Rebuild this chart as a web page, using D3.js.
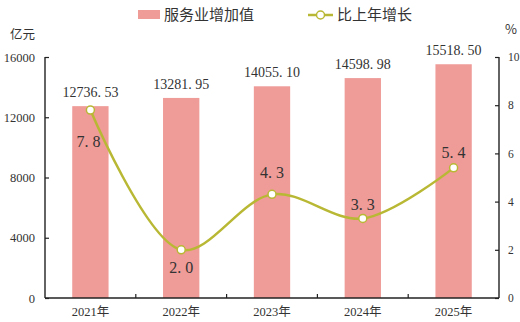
<!DOCTYPE html>
<html><head><meta charset="utf-8">
<script src="https://cdn.jsdelivr.net/npm/d3@7"></script>
<style>body{margin:0;background:#fff}svg{display:block}</style>
</head><body>
<svg id="c" width="520" height="322"></svg>
<script>
const categories = ["2021年","2022年","2023年","2024年","2025年"];
const serviceValues = [12736.53, 13281.95, 14055.10, 14598.98, 15518.50];
const growthRates = [7.8, 2.0, 4.3, 3.3, 5.4];
const leftTicks = [0, 4000, 8000, 12000, 16000];
const rightTicks = [0, 2, 4, 6, 8, 10];

const svg = d3.select("#c");
const L = 45, R = 499, T = 57, B = 298;
const serif = "'Liberation Serif','DejaVu Serif','Noto Sans CJK SC',serif";
const cjk = "'Noto Sans CJK SC',sans-serif";
const barColor = "#ef9b97", lineColor = "#b9b835", textColor = "#333";

const x = d3.scaleBand().domain(categories).range([L, R]).paddingInner(0.6).paddingOuter(0.3);
const xb = d3.scaleBand().domain(categories).range([L, R]);
const yL = d3.scaleLinear().domain([0, 16000]).range([B, T]);
const yR = d3.scaleLinear().domain([0, 10]).range([B, T]);

// bars
svg.selectAll("rect.bar").data(serviceValues).join("rect")
  .attr("x", (d,i)=>x(categories[i])).attr("width", x.bandwidth())
  .attr("y", d=>yL(d)).attr("height", d=>B-yL(d)).attr("fill", barColor);

// bar labels
svg.selectAll("text.bl").data(serviceValues).join("text")
  .attr("x",(d,i)=>xb(categories[i])+xb.bandwidth()/2).attr("y", d=>yL(d)-9)
  .attr("text-anchor","middle").attr("font-family",serif).attr("font-size",14)
  .attr("fill",textColor).text(d=>d3.format(".2f")(d).replace(".", ". "));

// axes
const axL = svg.append("g").attr("transform",`translate(${L},0)`)
  .call(d3.axisLeft(yL).tickValues(leftTicks).tickFormat(d3.format("d")).tickSize(-4).tickPadding(10));
const axR = svg.append("g").attr("transform",`translate(${R},0)`)
  .call(d3.axisRight(yR).tickValues(rightTicks).tickFormat(d3.format("d")).tickSize(-4).tickPadding(9));
const axB = svg.append("g").attr("transform",`translate(0,${B})`)
  .call(d3.axisBottom(xb).tickSize(0).tickPadding(9));
[axL, axR, axB].forEach(g=>{
  g.select(".domain").attr("stroke","#222").attr("stroke-width",1.4);
  g.selectAll(".tick line").attr("stroke","#222").attr("stroke-width",1.2);
  g.selectAll("text").attr("font-family",serif).attr("font-size",12.5).attr("fill",textColor);
});
axR.selectAll("text").attr("font-size",11.5);
axL.select(".domain").attr("d",`M0,${B}V${T}`);
axR.select(".domain").attr("d",`M0,${B}V${T}`);
axB.select(".domain").attr("d",`M${L},0H${R}`);
axB.selectAll("text").attr("font-size",12.5);
// category separator ticks on x axis (upward)
svg.append("g").selectAll("line").data(categories.slice(1)).join("line")
  .attr("x1",d=>xb(d)).attr("x2",d=>xb(d)).attr("y1",B).attr("y2",B-4)
  .attr("stroke","#222").attr("stroke-width",1.2);

// line
const cx = (i)=>xb(categories[i])+xb.bandwidth()/2;
const line = d3.line().x((d,i)=>cx(i)).y(d=>yR(d)).curve(d3.curveCatmullRom.alpha(0.5));
svg.append("path").datum(growthRates).attr("d",line).attr("fill","none")
  .attr("stroke",lineColor).attr("stroke-width",2.5);
svg.selectAll("circle.pt").data(growthRates).join("circle")
  .attr("cx",(d,i)=>cx(i)).attr("cy",d=>yR(d)).attr("r",4)
  .attr("fill","#fff").attr("stroke",lineColor).attr("stroke-width",1.5);
const dy = [37, 23, -16, -8, -10];
svg.selectAll("text.gl").data(growthRates).join("text")
  .attr("x",(d,i)=>cx(i)-(i===0?2:0)).attr("y",(d,i)=>yR(d)+dy[i])
  .attr("text-anchor","middle").attr("font-family",serif).attr("font-size",16)
  .attr("fill",textColor).text(d=>d3.format(".1f")(d).replace(".", ". "));

// units
svg.append("text").attr("x",10).attr("y",39).attr("font-family",cjk).attr("font-size",12.5).attr("fill",textColor).text("亿元");
svg.append("text").attr("x",505).attr("y",34).attr("font-family",cjk).attr("font-size",13).attr("fill",textColor).text("%");

// legend
svg.append("rect").attr("x",138).attr("y",10).attr("width",22).attr("height",9).attr("fill",barColor);
svg.append("text").attr("x",164).attr("y",20).attr("font-family",cjk).attr("font-size",15).attr("fill",textColor).text("服务业增加值");
svg.append("line").attr("x1",308).attr("x2",333).attr("y1",15).attr("y2",15).attr("stroke",lineColor).attr("stroke-width",2.5);
svg.append("circle").attr("cx",320.5).attr("cy",15).attr("r",4).attr("fill","#fff").attr("stroke",lineColor).attr("stroke-width",1.5);
svg.append("text").attr("x",337).attr("y",20).attr("font-family",cjk).attr("font-size",15).attr("fill",textColor).text("比上年增长");
</script>
</body></html>
